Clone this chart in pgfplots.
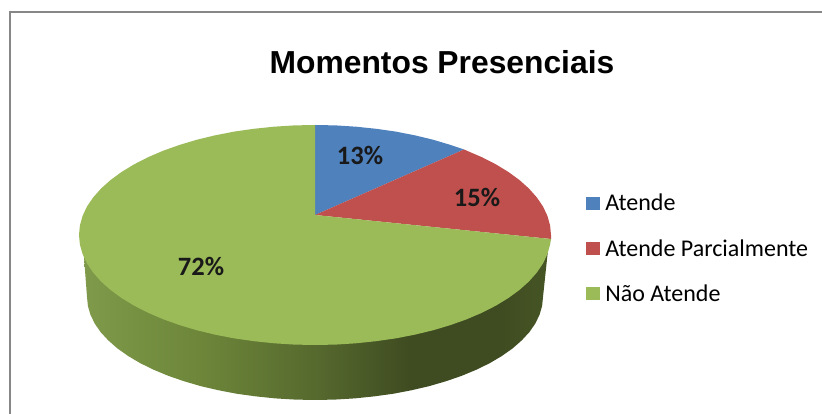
\documentclass[border=0pt]{standalone}
\usepackage{pgfplots}
\pgfplotsset{compat=1.18}
\usepackage{fontspec}
\setmainfont{Carlito}
\newfontfamily\titlefont{Liberation Sans}
\definecolor{cblue}{HTML}{4F81BD}
\definecolor{cred}{HTML}{C0504D}
\definecolor{cgreen}{HTML}{9BBB59}
\definecolor{sa}{HTML}{7F9A4A}
\definecolor{sb}{HTML}{6C8539}
\definecolor{sc}{HTML}{56692E}
\definecolor{sd}{HTML}{3F4C21}
\definecolor{se}{HTML}{465525}
\pgfdeclarehorizontalshading{sidewall}{100bp}{color(0bp)=(sa); color(25bp)=(sa); color(38bp)=(sb); color(50bp)=(sc); color(60bp)=(sd); color(70bp)=(sd); color(75bp)=(se); color(100bp)=(se)}
\begin{document}
\begin{tikzpicture}[x=1pt,y=1pt]
\useasboundingbox (0,0) rectangle (822,414);
\begin{axis}[
  at={(0,0)}, anchor=south west,
  width=822pt, height=414pt, scale only axis,
  xmin=-315, xmax=507, ymin=-179, ymax=235,
  hide axis, clip=false,
  legend style={at={(0.713,0.5360)}, anchor=north west, draw=none, fill=none,
    font=\fontsize{24}{28}\selectfont, row sep=23pt, inner sep=0pt},
  legend cell align=left,
  legend image code/.code={\fill[#1] (0pt,-6.5pt) rectangle (14pt,6.5pt); \path (17pt,0pt);},
]
% outer frame
\addplot[forget plot, draw=black!47, line width=2pt] coordinates {(-305,-179) (-305,223) (507,223)};
% side wall
\addplot[forget plot, draw=none, shading=sidewall] coordinates {
(-231,-22) (-228,-62) (-227.1,-71) (-224.5,-79.9) (-220.2,-88.7) (-214.3,-97.2) (-206.6,-105.5) (-197.5,-113.5) (-186.7,-121.1) (-174.7,-128.2) (-161.2,-134.8) (-146.5,-140.9) (-130.8,-146.3) (-114,-151.2) (-96.3,-155.3) (-78,-158.8) (-59,-161.4) (-39.6,-163.4) (-19.9,-164.6)
(0,-165) (19.9,-164.6) (39.6,-163.4) (59,-161.4) (78,-158.8) (96.3,-155.3) (114,-151.2) (130.8,-146.3) (146.5,-140.9) (161.2,-134.8) (174.7,-128.2) (186.7,-121.1) (197.5,-113.5) (206.6,-105.5) (214.3,-97.2) (220.2,-88.7) (224.5,-79.9) (227.1,-71) (228,-62) (233,-15)} -- cycle;
% Atende 13%
\addplot[draw=none, fill=cblue] coordinates {
(0,20) (0,110) (20.6,109.6) (41,108.3) (61.1,106.2) (80.7,103.4) (99.7,99.7) (118,95.3) (135.4,90.1) (149,85.5)} -- cycle;
\addlegendentry{Atende}
% Atende Parcialmente 15%
\addplot[draw=none, fill=cred] coordinates {
(0,20) (149,85.5) (166.9,77.8) (180.8,70.7) (193.3,63.1) (204.4,55) (213.9,46.5) (221.8,37.6) (228,28.5) (232.4,19.1) (235.1,9.6) (236,0) (236,-4)} -- cycle;
\addlegendentry{Atende Parcialmente}
% Nao Atende 72%
\addplot[draw=none, fill=cgreen] coordinates {
(0,20) (236,-4) (235.1,-9.6) (232.4,-19.1) (228,-28.5) (221.8,-37.6) (213.9,-46.5) (204.4,-55) (193.3,-63.1) (180.8,-70.7) (166.9,-77.8) (151.7,-84.3) (135.4,-90.1) (118,-95.3) (99.7,-99.7) (80.7,-103.4) (61.1,-106.2) (41,-108.3) (20.6,-109.6)
(0,-110) (-20.6,-109.6) (-41,-108.3) (-61.1,-106.2) (-80.7,-103.4) (-99.7,-99.7) (-118,-95.3) (-135.4,-90.1) (-151.7,-84.3) (-166.9,-77.8) (-180.8,-70.7) (-193.3,-63.1) (-204.4,-55) (-213.9,-46.5) (-221.8,-37.6) (-228,-28.5) (-232.4,-19.1) (-235.1,-9.6) (-236,0)
(-235.1,9.6) (-232.4,19.1) (-228,28.5) (-221.8,37.6) (-213.9,46.5) (-204.4,55) (-193.3,63.1) (-180.8,70.7) (-166.9,77.8) (-151.7,84.3) (-135.4,90.1) (-118,95.3) (-99.7,99.7) (-80.7,103.4) (-61.1,106.2) (-41,108.3) (-20.6,109.6) (0,110)} -- cycle;
\addlegendentry{Não Atende}
\node[font=\fontsize{26.5}{30}\selectfont\bfseries, text=black!90] at (axis cs:45,80) {13\%};
\node[font=\fontsize{26.5}{30}\selectfont\bfseries, text=black!90] at (axis cs:162,38) {15\%};
\node[font=\fontsize{26.5}{30}\selectfont\bfseries, text=black!90] at (axis cs:-114,-31) {72\%};
\node[font=\titlefont\fontsize{31.8}{36}\selectfont\bfseries, text=black] at (axis cs:127,173) {Momentos Presenciais};
\end{axis}
\end{tikzpicture}
\end{document}
